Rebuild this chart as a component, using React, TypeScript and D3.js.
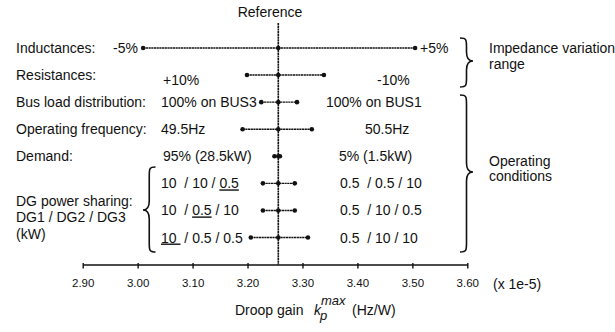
import React, { useEffect, useRef } from "react";
import * as d3 from "d3";

const categories = [
  "Inductances",
  "Resistances",
  "Bus load distribution",
  "Operating frequency",
  "Demand",
  "DG 10/10/0.5",
  "DG 10/0.5/10",
  "DG 10/0.5/0.5",
];
const lowValues = [3.01, 3.199, 3.225, 3.191, 3.249, 3.228, 3.228, 3.206];
const highValues = [3.505, 3.339, 3.29, 3.317, 3.259, 3.286, 3.286, 3.31];
const referenceValue = 3.256;
const xTicks = [2.9, 3.0, 3.1, 3.2, 3.3, 3.4, 3.5, 3.6];

const rowLabels = [
  "Inductances:",
  "Resistances:",
  "Bus load distribution:",
  "Operating frequency:",
  "Demand:",
  "",
  "",
  "",
];
// left label segments: [text, underlined]
const leftValueLabels: [string, boolean][][] = [
  [["-5%", false]],
  [["+10%", false]],
  [["100% on BUS3", false]],
  [["49.5Hz", false]],
  [["95% (28.5kW)", false]],
  [["10  / 10 / ", false], ["0.5", true]],
  [["10  / ", false], ["0.5", true], [" / 10", false]],
  [["10 ", true], [" / 0.5 / 0.5", false]],
];
const rightValueLabels = [
  "+5%",
  "-10%",
  "100% on BUS1",
  "50.5Hz",
  "5% (1.5kW)",
  "0.5  / 0.5 / 10",
  "0.5  / 10 / 0.5",
  "0.5  / 10 / 10",
];
// label placement (layout)
const leftLabelX = [138, 163, 161, 161, 163, 161, 161, 161];
const leftLabelAnchor = ["end", "start", "start", "start", "start", "start", "start", "start"];
const leftLabelDy = [5, 10, 5, 5, 5, 5, 5, 5];
const rightLabelX = [420, 377, 326, 365, 339, 340, 340, 340];
const rightLabelDy = [5, 10, 5, 5, 5, 5, 5, 5];

const FONT = "'Liberation Sans', Arial, sans-serif";

function bracePath(xBase: number, xTip: number, y1: number, y2: number, ym: number) {
  const xm = (xBase + xTip) / 2;
  const r = 9;
  const s = Math.sign(xTip - xBase);
  return [
    `M${xBase},${y1}`,
    `C${xm},${y1} ${xm},${y1 + 2} ${xm},${y1 + r}`,
    `L${xm},${ym - r}`,
    `C${xm},${ym - 3} ${xm + s * 2},${ym} ${xTip},${ym}`,
    `C${xm + s * 2},${ym} ${xm},${ym + 3} ${xm},${ym + r}`,
    `L${xm},${y2 - r}`,
    `C${xm},${y2 - 2} ${xm},${y2} ${xBase},${y2}`,
  ].join(" ");
}

export default function App() {
  const axisRef = useRef<SVGGElement>(null);
  const x = d3.scaleLinear().domain([2.9, 3.6]).range([82.7, 467.3]);
  const y = d3.scalePoint<string>().domain(categories).range([48, 237.5]);
  const axisY = 264.5;

  useEffect(() => {
    if (!axisRef.current) return;
    const g = d3.select(axisRef.current);
    g.selectAll("*").remove();
    g.call(
      d3
        .axisBottom(x)
        .tickValues(xTicks)
        .tickSize(4)
        .tickSizeOuter(0)
        .tickPadding(10.3)
        .tickFormat(d3.format(".2f") as any)
    );
    g.select(".domain").attr("stroke", "#111").attr("stroke-width", 1.6);
    g.selectAll(".tick line").attr("stroke", "#111").attr("stroke-width", 1.4).attr("y1", -1.5);
    g.selectAll(".tick text")
      .attr("font-family", FONT)
      .attr("font-size", 11.5)
      .attr("fill", "#111");
  }, []);

  const lineStyle = { stroke: "#111", strokeWidth: 1.4, strokeDasharray: "2.2 0.5" };

  return (
    <svg
      width={615}
      height={332}
      style={{ position: "absolute", left: 0, top: 0, background: "#fff" }}
      fontFamily={FONT}
      fontSize={14}
    >
      {/* reference */}
      <text x={270} y={17} textAnchor="middle" fill="#111">Reference</text>
      <line x1={x(referenceValue)} x2={x(referenceValue)} y1={23} y2={axisY} {...lineStyle} strokeWidth={1.6} />

      {/* ranges */}
      {categories.map((c, i) => (
        <g key={c}>
          <line x1={x(lowValues[i])} x2={x(highValues[i])} y1={y(c)} y2={y(c)} {...lineStyle} />
          {[lowValues[i], referenceValue, highValues[i]].map((v, j) => (
            <circle key={j} cx={x(v)} cy={y(c)!} r={2.3} fill="#111" />
          ))}
        </g>
      ))}

      {/* row labels */}
      {categories.map((c, i) =>
        rowLabels[i] ? (
          <text key={"r" + i} x={16} y={y(c)! + 5} fill="#111">{rowLabels[i]}</text>
        ) : null
      )}
      <text x={16} y={206} fill="#111">DG power sharing:</text>
      <text x={16} y={222} fill="#111">DG1 / DG2 / DG3</text>
      <text x={16} y={238.5} fill="#111">(kW)</text>

      {/* left value labels */}
      {categories.map((c, i) => (
        <text
          key={"l" + i}
          x={leftLabelX[i]}
          y={y(c)! + leftLabelDy[i]}
          textAnchor={leftLabelAnchor[i] as any}
          fill="#111"
          style={{ whiteSpace: "pre" }}
        >
          {leftValueLabels[i].map(([t, u], k) => (
            <tspan key={k} style={u ? { textDecoration: "underline" } : undefined}>
              {t}
            </tspan>
          ))}
        </text>
      ))}

      {/* right value labels */}
      {categories.map((c, i) => (
        <text key={"rv" + i} x={rightLabelX[i]} y={y(c)! + rightLabelDy[i]} fill="#111" style={{ whiteSpace: "pre" }}>
          {rightValueLabels[i]}
        </text>
      ))}

      {/* braces */}
      <path d={bracePath(460, 473, 38, 87, 61)} fill="none" stroke="#111" strokeWidth={1.6} />
      <path d={bracePath(460, 473, 95, 252, 172)} fill="none" stroke="#111" strokeWidth={1.6} />
      <path d={bracePath(155.5, 143, 167, 252, 210)} fill="none" stroke="#111" strokeWidth={1.6} />

      <text x={489} y={53} fill="#111">Impedance variation</text>
      <text x={489} y={69} fill="#111">range</text>
      <text x={489} y={166} fill="#111">Operating</text>
      <text x={489} y={181} fill="#111">conditions</text>

      {/* axis */}
      <g ref={axisRef} transform={`translate(0,${axisY})`} />
      <text x={493} y={289} fill="#111">(x 1e-5)</text>

      <text x={235} y={315} fill="#111">Droop gain</text>
      <text x={314} y={315} fill="#111" fontStyle="italic">k</text>
      <text x={321} y={305} fill="#111" fontStyle="italic" fontSize={13}>max</text>
      <text x={320} y={320} fill="#111" fontStyle="italic" fontSize={13}>p</text>
      <text x={352} y={315} fill="#111">(Hz/W)</text>
    </svg>
  );
}
